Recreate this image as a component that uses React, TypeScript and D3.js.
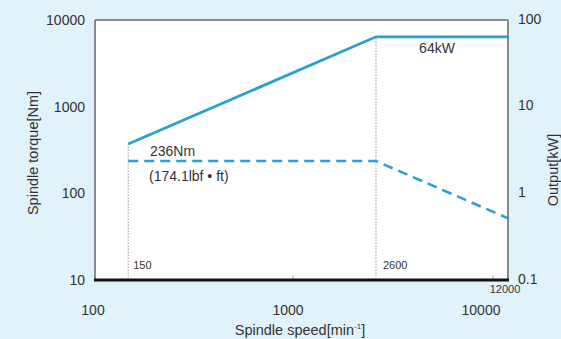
import React from "react";
import * as d3 from "d3";

// spindle speed [min-1]
const speeds = [150, 2600, 12000];
// output [kW]
const output = [3.7, 64, 64];
// torque [Nm]
const torque = [236, 236, 51];

const xTicks = [100, 1000, 10000];
const torqueTicks = [10, 100, 1000, 10000];
const outputTicks = ["0.1", "1", "10", "100"];

const W = 561, H = 339;
const plot = {left: 95, right: 508, top: 20, bottom: 280};

const BLUE = "#2a9fd0";
const TEXT = "#333";
const FONT = "'Liberation Sans', Arial, Helvetica, sans-serif";

const App = () => {
    const x = d3.scaleLog().domain([100, 10000]).range([93, 493]);
    const yT = d3.scaleLog().domain([10, 10000]).range([plot.bottom, plot.top]);
    const yP = d3.scaleLog().domain([0.1, 100]).range([plot.bottom, plot.top]);

    const powerLine = d3.line<number>()
        .x((d, i) => x(speeds[i]))
        .y(d => yP(d));
    const torqueLine = d3.line<number>()
        .x((d, i) => x(speeds[i]))
        .y(d => yT(d));

    const xLabelShift = [0, -5, -12];

    return (
        <svg width={W} height={H} style={{position: "absolute", left: 0, top: 0}} fontFamily={FONT}>
            <rect x={0} y={0} width={W} height={H} fill="#e0f2fa"/>
            <rect x={plot.left} y={plot.top} width={plot.right - plot.left} height={plot.bottom - plot.top} fill="#fff"/>

            {/* small ticks on the bottom */}
            {xTicks.slice(1).map(t => (
                <line key={t} x1={x(t)} x2={x(t)} y1={plot.bottom} y2={plot.bottom - 5} stroke="#ccc" strokeWidth={1.5}/>
            ))}

            {/* dotted guide lines */}
            {speeds.slice(0, 2).map((s, i) => (
                <line key={s} x1={x(s)} x2={x(s)} y1={plot.bottom} y2={yP(output[i])}
                      stroke="#999" strokeWidth={1} strokeDasharray="1.5,1.5"/>
            ))}

            {/* borders */}
            <line x1={plot.left} x2={plot.right} y1={plot.top} y2={plot.top} stroke="#222" strokeWidth={1}/>
            <line x1={plot.right} x2={plot.right} y1={plot.top} y2={plot.bottom} stroke="#888" strokeWidth={2}/>
            <line x1={plot.left} x2={plot.left} y1={plot.top} y2={plot.bottom} stroke="#666" strokeWidth={1.5}/>
            <line x1={plot.left - 1} x2={plot.right + 1} y1={plot.bottom} y2={plot.bottom} stroke="#111" strokeWidth={3}/>

            {/* curves */}
            <path d={powerLine(output) || ""} fill="none" stroke={BLUE} strokeWidth={2.8}/>
            <path d={torqueLine(torque) || ""} fill="none" stroke={BLUE} strokeWidth={2.5} strokeDasharray="10,6"/>

            {/* left ticks */}
            {torqueTicks.map(t => (
                <text key={t} x={85} y={yT(t)} dy="0.35em" textAnchor="end" fontSize={14} fill={TEXT}>{t}</text>
            ))}
            {/* right ticks */}
            {outputTicks.map(t => (
                <text key={t} x={518} y={yP(+t)} dy="0.25em" textAnchor="start" fontSize={14} fill={TEXT}>{t}</text>
            ))}
            {/* bottom ticks */}
            {xTicks.map((t, i) => (
                <text key={t} x={x(t) + xLabelShift[i]} y={315} textAnchor="middle" fontSize={14} fill={TEXT}>{t}</text>
            ))}
            <text x={505} y={293} textAnchor="middle" fontSize={11} fill={TEXT}>12000</text>

            {/* speed annotations */}
            <text x={x(speeds[0]) + 5} y={269} fontSize={11} fill={TEXT}>{speeds[0]}</text>
            <text x={x(speeds[1]) + 7} y={269} fontSize={11} fill={TEXT}>{speeds[1]}</text>

            <text x={150} y={156} fontSize={14} fill={TEXT}>236Nm</text>
            <text x={149} y={181} fontSize={14} fill={TEXT}>(174.1lbf • ft)</text>
            <text x={437} y={53} textAnchor="middle" fontSize={14} fill={TEXT}>64kW</text>

            {/* axis titles */}
            <text x={300} y={335} textAnchor="middle" fontSize={14.5} fill={TEXT}>
                Spindle speed[min<tspan fontSize={8} dy={-6}>-1</tspan><tspan dy={6}>]</tspan>
            </text>
            <text transform="translate(38,153) rotate(-90)" textAnchor="middle" fontSize={14.5} fill={TEXT}>Spindle torque[Nm]</text>
            <text transform="translate(558,170) rotate(-90)" textAnchor="middle" fontSize={14.5} fill={TEXT}>Output[kW]</text>
        </svg>
    );
};

export default App;
